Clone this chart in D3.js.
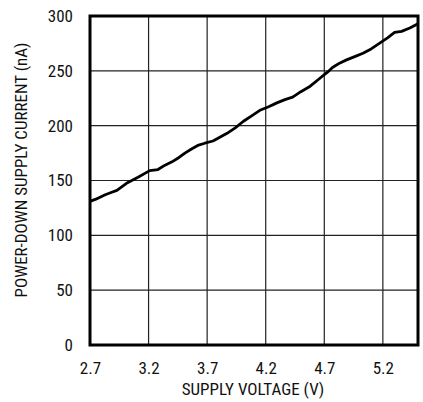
<!DOCTYPE html>
<html><head><meta charset="utf-8">
<script src="https://cdn.jsdelivr.net/npm/d3@7"></script>
<style>
html,body{margin:0;padding:0;background:#fff;}
text{font-family:"Liberation Sans Narrow","Arial Narrow","Roboto Condensed","Liberation Sans",sans-serif;fill:#111;}
</style></head><body>
<svg id="c" width="423" height="402"></svg>
<script>
const voltage = [2.70,2.75,2.83,2.88,2.93,3.02,3.11,3.21,3.28,3.34,3.40,3.46,3.51,3.57,3.62,3.68,3.75,3.87,3.94,4.01,4.08,4.15,4.22,4.30,4.37,4.43,4.50,4.58,4.66,4.73,4.77,4.83,4.89,4.96,5.03,5.10,5.17,5.24,5.30,5.36,5.43,5.50];
const current = [131,133,137,139,141,148,153,159,160,164,167,171,175,179,182,184,186,193,198,204,209,214,217,221,224,226,231,236,243,249,253,257,260,263,266,270,275,280,285,286,289,293];
const xTicks = [2.7,3.2,3.7,4.2,4.7,5.2];
const yTicks = [0,50,100,150,200,250,300];
const xTitle = "SUPPLY VOLTAGE (V)";
const yTitle = "POWER-DOWN SUPPLY CURRENT (nA)";

const svg = d3.select("#c");
const L=90,R=418,T=16,B=345;
const x = d3.scaleLinear().domain([2.7,5.5]).range([L,R]);
const y = d3.scaleLinear().domain([0,300]).range([B,T]);

const g = svg.append("g");
g.selectAll(".vg").data(xTicks.slice(1)).enter().append("line")
 .attr("x1",d=>x(d)).attr("x2",d=>x(d)).attr("y1",T).attr("y2",B)
 .attr("stroke","#222").attr("stroke-width",1.2);
g.selectAll(".hg").data(yTicks.slice(1,-1)).enter().append("line")
 .attr("y1",d=>y(d)).attr("y2",d=>y(d)).attr("x1",L).attr("x2",R)
 .attr("stroke","#222").attr("stroke-width",1.2);

const xa = svg.append("g").attr("transform",`translate(0,${B})`)
 .call(d3.axisBottom(x).tickValues(xTicks).tickFormat(d3.format(".1f")).tickSize(0).tickPadding(17));
xa.select(".domain").remove();
xa.selectAll("text").attr("font-size",17).style("font-family",null);
const ya = svg.append("g").attr("transform",`translate(${L},0)`)
 .call(d3.axisLeft(y).tickValues(yTicks).tickSize(0).tickPadding(17));
ya.select(".domain").remove();
ya.selectAll("text").attr("font-size",17).style("font-family",null);

svg.append("rect").attr("x",L).attr("y",T).attr("width",R-L).attr("height",B-T)
 .attr("fill","none").attr("stroke","#000").attr("stroke-width",3);

const line = d3.line().x((d,i)=>x(voltage[i])).y(d=>y(d));
svg.append("path").datum(current).attr("d",line)
 .attr("fill","none").attr("stroke","#000").attr("stroke-width",2.8).attr("stroke-linejoin","round");

svg.append("text").attr("x",(L+R)/2-1).attr("y",395).attr("text-anchor","middle")
 .attr("font-size",17).text(xTitle);
svg.append("text").attr("transform",`translate(27,170) rotate(-90)`)
 .attr("text-anchor","middle").attr("font-size",17).text(yTitle);
</script></body></html>
